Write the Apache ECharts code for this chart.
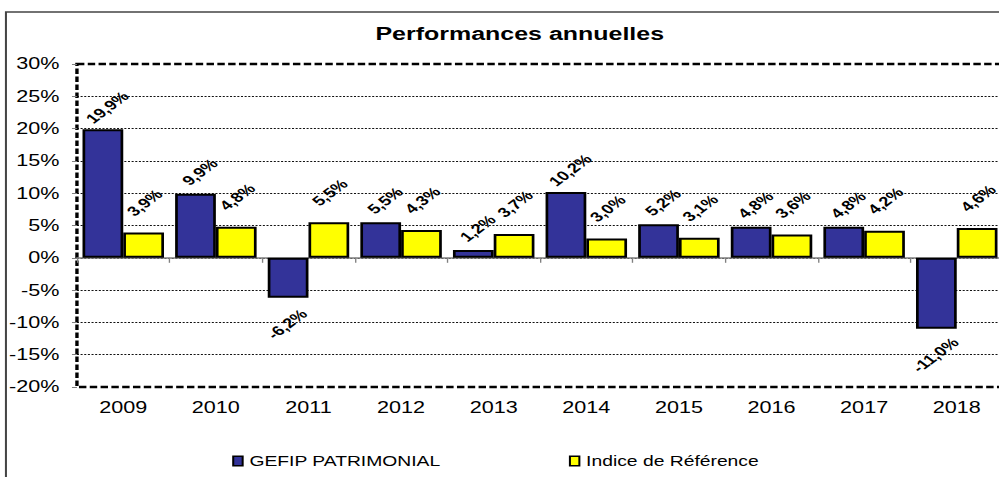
<!DOCTYPE html>
<html><head><meta charset="utf-8">
<script src="https://cdn.jsdelivr.net/npm/echarts@6/dist/echarts.min.js"></script>
<style>
html,body{margin:0;padding:0;background:#fff;overflow:hidden;width:999px;height:477px}
#wrap{width:999px;height:477px;overflow:hidden;position:relative;background:#fff}
#chart{width:740px;height:477px;transform:scaleX(1.35);transform-origin:0 0}
</style>
</head><body><div id="wrap"><div id="chart"></div></div>
<script>
// ---- data ----
const categories = ['2009','2010','2011','2012','2013','2014','2015','2016','2017','2018'];
const gefip  = [19.9, 9.9, -6.2, 5.5, 1.2, 10.2, 5.2, 4.8, 4.8, -11.0];
const indice = [3.9, 4.8, 5.5, 4.3, 3.7, 3.0, 3.1, 3.6, 4.2, 4.6];
const seriesNames = ['GEFIP PATRIMONIAL', 'Indice de Référence'];
const titleText = 'Performances annuelles';
const yMin = -20, yMax = 30, yStep = 5;

// ---- chart ----
const FONT = 'Arial, "Liberation Sans", sans-serif';
const chart = echarts.init(document.getElementById('chart'), null, {renderer: 'svg'});

function fmt(v) { return v.toFixed(1).replace('.', ',') + '%'; }

function makeLayout(values, dxUp, dyUp, dxDown, dyDown) {
  return function (params) {
    const r = params.rect;
    const v = values[params.dataIndex];
    const top = Math.min(r.y, r.y + r.height);
    const bottom = Math.max(r.y, r.y + r.height);
    const cx = r.x + r.width / 2;
    if (v >= 0) {
      return {x: cx + dxUp, y: top - dyUp, align: 'center', verticalAlign: 'middle', rotate: 45};
    }
    return {x: cx + dxDown, y: bottom + dyDown, align: 'center', verticalAlign: 'middle', rotate: 45};
  };
}

const labelStyle = {
  show: true,
  position: 'top',
  rotate: 45,
  color: '#000',
  fontFamily: FONT,
  fontWeight: 'bold',
  fontSize: 13.5,
  formatter: function (p) { return fmt(p.value); }
};

chart.setOption({
  backgroundColor: '#fff',
  animation: false,
  title: {
    text: titleText,
    left: 380,
    textAlign: 'center',
    top: 19,
    textStyle: {fontFamily: FONT, fontSize: 18.5, fontWeight: 'bold', color: '#000'}
  },
  graphic: [{
    type: 'rect',
    shape: {x: 4.4, y: 12, width: 900, height: 600},
    style: {fill: 'none', stroke: '#444', lineWidth: 1.5},
    silent: true,
    z: -10
  }],
  legend: {
    data: seriesNames,
    left: 167,
    top: 449,
    icon: 'rect',
    itemWidth: 7,
    itemHeight: 9.5,
    itemGap: 95,
    itemStyle: {borderColor: '#000', borderWidth: 1.5},
    textStyle: {fontFamily: FONT, fontSize: 14.3, color: '#000'}
  },
  grid: {
    left: 57, top: 64, width: 686, height: 323,
    show: true,
    borderColor: '#000',
    borderWidth: 2.5,
    borderType: [5.5, 2.5],
    backgroundColor: 'rgba(0,0,0,0)',
    containLabel: false,
    outerBoundsMode: 'none'
  },
  xAxis: [{
    type: 'category',
    data: categories,
    position: 'bottom',
    axisLine: {show: false, onZero: false},
    axisTick: {show: false},
    splitLine: {show: false},
    axisLabel: {color: '#000', fontFamily: FONT, fontSize: 16, margin: 13}
  }, {
    type: 'category',
    data: categories,
    position: 'top',
    axisLine: {show: true, onZero: true, lineStyle: {color: '#808080', width: 1.5}},
    axisTick: {show: true, inside: true, length: 5, interval: 0, lineStyle: {color: '#808080', width: 1}},
    axisLabel: {show: false},
    splitLine: {show: false}
  }],
  yAxis: {
    type: 'value',
    min: yMin, max: yMax, interval: yStep,
    axisLine: {show: false},
    axisTick: {show: true, length: 3.7, lineStyle: {color: '#808080', width: 1}},
    axisLabel: {color: '#000', fontFamily: FONT, fontSize: 16, margin: 13,
                formatter: function (v) { return v + '%'; }},
    splitLine: {show: true, showMinLine: false, showMaxLine: false,
                lineStyle: {color: '#111', width: 1, type: [1.5, 1.2]}}
  },
  series: [{
    name: seriesNames[0],
    type: 'bar',
    xAxisIndex: 0,
    data: gefip,
    barGap: '0%',
    barCategoryGap: '12%',
    itemStyle: {color: '#333399', borderColor: '#000', borderWidth: 2},
    label: labelStyle,
    labelLayout: makeLayout(gefip, 3, 22, -1, 26),
    z: 3
  }, {
    name: seriesNames[1],
    type: 'bar',
    xAxisIndex: 0,
    data: indice,
    barGap: '0%',
    barCategoryGap: '12%',
    itemStyle: {color: '#FFFF00', borderColor: '#000', borderWidth: 2},
    label: labelStyle,
    labelLayout: makeLayout(indice, 0.5, 30, -1, 26),
    z: 3
  }]
});
</script>
</body></html>
